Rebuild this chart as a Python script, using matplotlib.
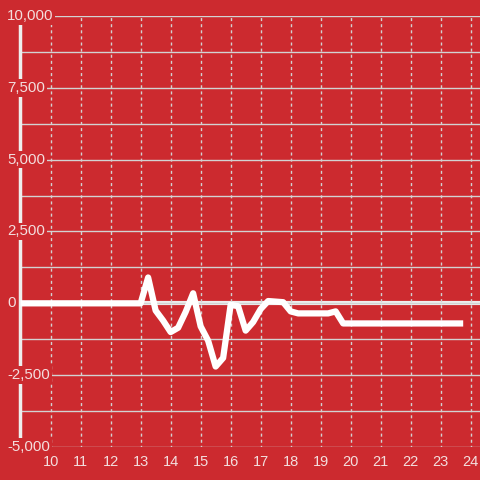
import matplotlib
matplotlib.use("Agg")
import matplotlib.pyplot as plt
from matplotlib.ticker import MultipleLocator

# hourly position (15 min steps) and value of the series
hours = [9.0, 13.0, 13.25, 13.5, 13.75, 14.0, 14.25, 14.5, 14.75, 15.0,
         15.25, 15.5, 15.75, 16.0, 16.25, 16.5, 16.75, 17.0, 17.25, 17.5,
         17.75, 18.0, 18.25, 19.25, 19.5, 19.75, 23.75]
values = [0, 0, 900, -250, -600, -1000, -850, -300, 350, -800,
          -1300, -2200, -1900, -50, -100, -950, -650, -200, 80, 60,
          40, -280, -350, -350, -280, -700, -700]

x_ticks = list(range(10, 25))
y_ticks = [-5000, -2500, 0, 2500, 5000, 7500, 10000]

red = '#cc2a2f'
grid_col = '#d2d2d2'
text_col = '#f3dede'

plt.rcParams['font.family'] = ['Liberation Sans', 'DejaVu Sans']

fig = plt.figure(figsize=(4.8, 4.8), dpi=100, facecolor=red)
ax = fig.add_axes([20 / 480, 33 / 480, 460 / 480, 431 / 480])
ax.set_facecolor(red)

ax.set_xlim(8.98, 24.31)
ax.set_ylim(-5000, 10000)

# grid
ax.yaxis.set_major_locator(MultipleLocator(2500))
ax.yaxis.set_minor_locator(MultipleLocator(1250))
ax.set_xticks(x_ticks)
ax.grid(True, axis='y', which='both', color=grid_col, lw=1.0)
ax.grid(True, axis='x', which='major', color=grid_col, lw=1.0, ls=(1, (2.2, 2.2)))
ax.axhline(0, color='#eeeeee', lw=3, zorder=1.5)

for side in ['top', 'right', 'bottom']:
    ax.spines[side].set_visible(False)
ax.spines['left'].set_color('#eeeeee')
ax.spines['left'].set_linewidth(2.5)

ax.tick_params(axis='both', which='both', length=0)
ax.tick_params(axis='x', colors=text_col, labelsize=10.5, pad=6)
ax.set_yticklabels([])

ax.plot(hours, values, color='white', lw=4.5, solid_joinstyle='round',
        solid_capstyle='butt', zorder=3)

# y labels sit over the spine with a red box behind them
for v in y_ticks:
    ax.text(-13 / 460, v, f'{v:,}', transform=ax.get_yaxis_transform(),
            ha='left', va='center', color=text_col, fontsize=10.8,
            clip_on=False, zorder=6,
            bbox=dict(boxstyle='square,pad=0.12', fc=red, ec='none'))

fig.savefig('out.png', dpi=100, facecolor=red)
